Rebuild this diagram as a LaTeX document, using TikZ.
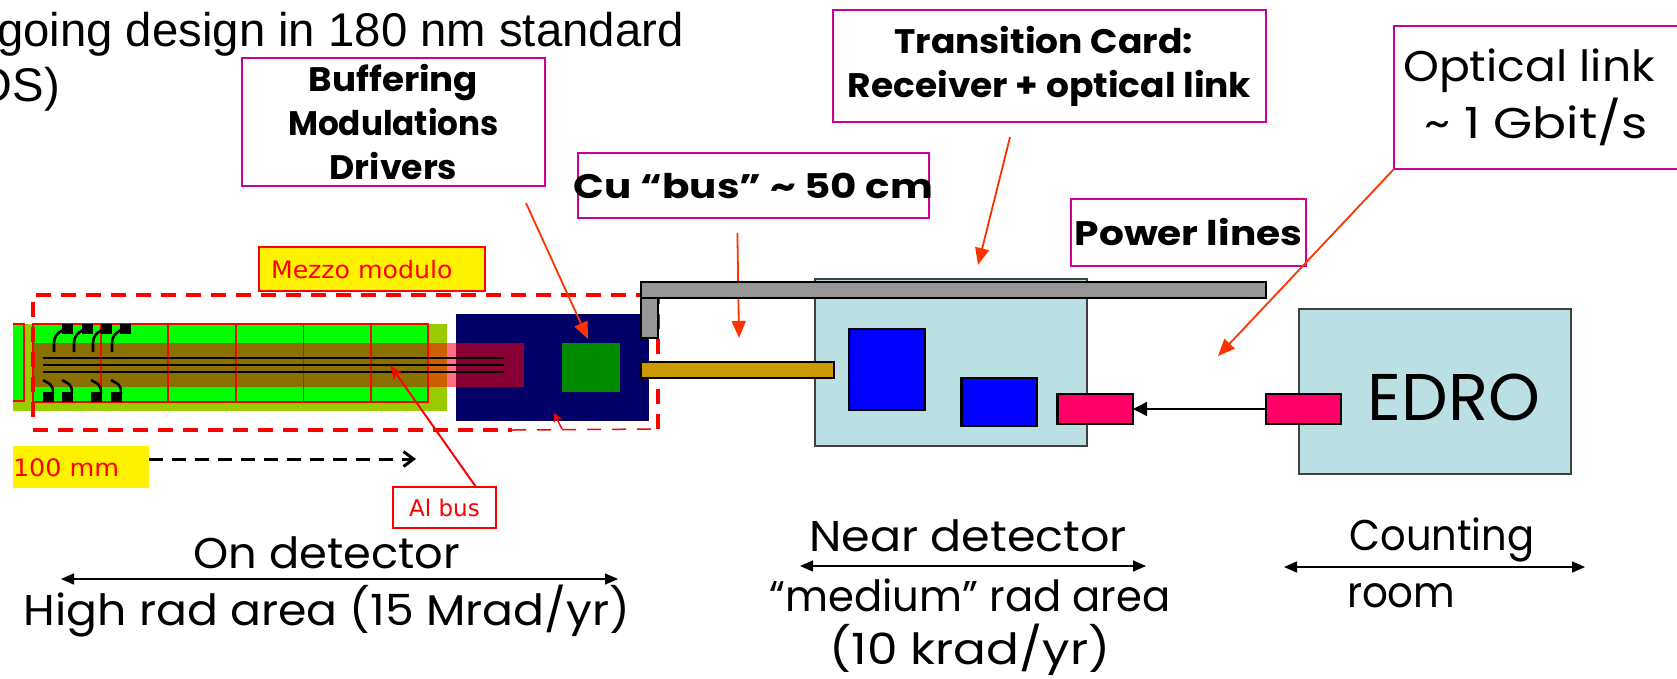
\documentclass[tikz,border=0pt]{standalone}
\usepackage{fontspec}
\setmainfont{Poppins}
\newfontfamily\labelfont{DejaVu Sans}
\newfontfamily\slidefont{Liberation Sans}
\newfontfamily\handfont{Poppins}
\newfontfamily\handbold{Poppins}[BoldFont={Poppins Bold}]
\usetikzlibrary{arrows.meta,calc}
\definecolor{olivegreen}{HTML}{99CC00}
\definecolor{brightgreen}{HTML}{00FF00}
\definecolor{bandbrown}{HTML}{8A7000}
\definecolor{bandorange}{HTML}{CC5F00}
\definecolor{bandpink}{HTML}{FF7080}
\definecolor{banddark}{HTML}{880033}
\definecolor{navyboard}{HTML}{000066}
\definecolor{chipgreen}{HTML}{008A00}
\definecolor{goldbus}{HTML}{CC9900}
\definecolor{greybar}{HTML}{969696}
\definecolor{paleblue}{HTML}{BAE0E3}
\definecolor{linkpink}{HTML}{FF0066}
\definecolor{boxmagenta}{HTML}{CC0099}
\definecolor{arroworange}{HTML}{FF3300}
\newcommand\rectnode[6][]{%
  \pgfmathsetmacro\rw{abs(#5-#3)}\pgfmathsetmacro\rh{abs(#6-#4)}%
  \pgfmathsetmacro\rcx{(#3+#5)/2}\pgfmathsetmacro\rcy{(#4+#6)/2}%
  \node[rectangle,inner sep=0pt,outer sep=0pt,minimum width=\rw pt,minimum height=\rh pt,#1] (#2) at (\rcx,\rcy) {};}
\newcommand\rectlabel[7][]{%
  \pgfmathsetmacro\rw{abs(#5-#3)}\pgfmathsetmacro\rh{abs(#6-#4)}%
  \pgfmathsetmacro\rcx{(#3+#5)/2}\pgfmathsetmacro\rcy{(#4+#6)/2}%
  \node[rectangle,inner sep=0pt,outer sep=0pt,minimum width=\rw pt,minimum height=\rh pt,#1] (#2) at (\rcx,\rcy) {#7};}
\newcommand\sx[2]{\scalebox{#1}[1]{#2}}
\newcommand\padright[1]{\rule{#1}{0pt}}
\tikzset{
  callout/.style={draw=boxmagenta,line width=1.6pt,fill=white,align=center,font=\handbold\bfseries\fontsize{34}{44}\selectfont},
  blackbox/.style={draw=black,line width=2.2pt},
  thinbox/.style={draw=black!75,line width=1.6pt},
  hand/.style={inner sep=0pt,outer sep=0pt,font=\handfont\fontsize{43}{50}\selectfont},
  redlabel/.style={inner sep=0pt,outer sep=0pt,text=red,font=\labelfont\fontsize{24}{28}\selectfont},
  orangearrow/.style={draw=arroworange,line width=1.8pt,-{Triangle[length=17pt,width=14pt]}},
  spanarrow/.style={draw=black,line width=1.5pt,{Triangle[length=13pt,width=11pt]}-{Triangle[length=13pt,width=11pt]}},
  reddash/.style={draw=red,line width=3.4pt,dash pattern=on 15pt off 10pt},
  tinyline/.style={draw=black,line width=2.6pt},
}
\begin{document}
\begin{tikzpicture}[x=1pt,y=-1pt]
\useasboundingbox (0,0) rectangle (1677,678);
\fill[white] (0,0) rectangle (1677,678);

% clipped slide text
\node[anchor=base west,inner sep=0pt,font=\slidefont\fontsize{47.3}{50}\selectfont] (slideone) at (-3,46) {going design in 180 nm standard};
\node[anchor=base east,inner sep=0pt,font=\slidefont\fontsize{47.3}{50}\selectfont] (slidetwo) at (60,101) {OS)};

% on-detector frame
\coordinate (frameNW) at (33,295);
\coordinate (frameNE) at (641,295);
\coordinate (frameSW) at (33,430);
\coordinate (frameLeftEnd) at (33,417);
\coordinate (frameThin) at (512,430);
\coordinate (frameSE) at (658,429);
\coordinate (frameEast) at (658,298);

\rectnode[fill=olivegreen]{olive}{13}{324}{447}{411}
\rectnode[fill=brightgreen]{stubgreen}{13}{324}{24}{401}
\draw[red,line width=2pt] (stubgreen.north west) -- (stubgreen.north east) -- (stubgreen.south east) -- (stubgreen.south west);
\rectnode[fill=brightgreen]{mainstrip}{33}{324}{428}{402}
\rectnode[fill=navyboard]{board}{456}{314}{649}{421}
\rectnode[fill=bandbrown]{bandbrownpart}{33}{343}{428}{387}
\rectnode[fill=bandorange]{bandorangepart}{428}{343}{447}{387}
\rectnode[fill=bandpink]{bandpinkpart}{447}{343}{456}{387}
\rectnode[fill=banddark]{banddarkpart}{456}{343}{524}{387}
\rectnode[fill=chipgreen]{chip}{562}{343}{620}{392}

\rectnode[draw=red,line width=2pt]{mainframe}{33}{324}{428}{402}
\foreach \gx in {101,168,236,303.5,371} \draw[red,line width=1.1pt] (\gx,324) -- (\gx,402);

% bus lines
\foreach \ly/\nm in {358/a,365/b,372/c}{
  \coordinate (lw\nm) at (43,\ly); \coordinate (le\nm) at (504,\ly);
  \draw[black,line width=2.2pt] (lw\nm) -- (le\nm);}

% wire-bond details
\foreach \px [count=\i] in {62,82,101,120}{
  \fill[black] (\px,324) rectangle ++(11,10);
  \draw[tinyline] (\px+1,330) .. controls (\px-5,333) and (\px-8,337) .. (\px-8,343) -- (\px-8,352);}
\foreach \px [count=\i] in {43,62,91,111}{
  \fill[black] (\px,392) rectangle ++(10.5,9.5);
  \draw[tinyline] (\px,380) -- (\px+7,384) .. controls (\px+9,386) and (\px+10,388) .. (\px+10,393);}

% dashed frame
\draw[reddash] (frameSW) -- (frameThin);
\draw[reddash] (frameLeftEnd) -- (frameNW) -- (frameNE);
\draw[red,line width=1.5pt,dash pattern=on 14pt off 11pt] (frameThin) -- (frameSE);
\draw[reddash] (frameSE) -- (frameEast);

\coordinate (smallfrom) at (562,429);
\coordinate (smallto) at (554,413);
\draw[red,line width=1.5pt,-{Stealth[length=9pt,width=9pt,open]}] (smallfrom) -- (smallto);

% labels on detector
\rectnode[fill=yellow,draw=red,line width=1.4pt]{mezzobox}{259}{247}{485}{291}
\node[redlabel,anchor=base west] (mezzotext) at (271,278) {\sx{1.05}{Mezzo modulo}};
\rectnode[fill=yellow]{scalebox}{13}{446}{149}{488}
\node[redlabel,anchor=base west] (scaletext) at (13,476) {\sx{1.06}{100 mm}};
\coordinate (scaleend) at (416,459);
\draw[black,line width=3pt,dash pattern=on 14pt off 9pt,-{Straight Barb[length=10pt,width=15pt]}] (scalebox.east |- scaleend) -- (scaleend);
\rectlabel[fill=white,draw=red,line width=1.3pt,text=red,font=\labelfont\fontsize{23}{26}\selectfont]{albus}{393}{487}{496}{528}{Al bus}
\coordinate (albusfrom) at (476,487);
\coordinate (albusto) at (390,365);
\draw[red,line width=2pt,-{Stealth[length=15pt,width=11pt,open]}] (albusfrom) -- (albusto);

% near detector
\coordinate (cufrom) at (737.4,233);
\coordinate (cuto) at (739,338);
\draw[orangearrow] (cufrom) -- (cuto);
\rectnode[fill=paleblue,thinbox]{nearbox}{815}{279}{1087}{446}
\rectnode[fill=blue,blackbox]{blueone}{849}{329}{925}{410}
\rectnode[fill=blue,blackbox]{bluetwo}{961.5}{378}{1037}{426}
\rectnode[fill=greybar,blackbox]{powerstub}{641}{298}{658}{338}
\rectnode[fill=greybar,blackbox]{powerbar}{641}{282}{1266}{298}
\rectnode[fill=goldbus,blackbox]{goldbar}{641}{362}{834}{378}
\rectnode[fill=linkpink,blackbox]{nearlink}{1057.5}{394}{1133}{424}

% counting room
\rectnode[fill=paleblue,thinbox]{edrobox}{1299}{309}{1571}{474}
\rectnode[fill=linkpink,blackbox]{edrolink}{1266}{394}{1341}{424}
\draw[black,line width=1.6pt,-{Triangle[length=14pt,width=14pt]}] (edrolink.west) -- (nearlink.east);
\node[inner sep=0pt,font=\handfont\fontsize{66}{70}\selectfont] (edrotext) at (1454,397) {EDRO};

% callouts
\rectlabel[callout]{buffering}{242}{58}{545}{186}{\sx{1.05}{Buffering}\\\sx{.96}{Modulations}\\\sx{1.02}{Drivers}}
\rectlabel[callout]{transition}{833}{10}{1266}{122}{\sx{1.06}{Transition Card:}\padright{12pt}\\\sx{1.06}{Receiver + optical link}}
\rectlabel[callout]{cubox}{578}{153}{929}{218}{\makebox[0pt][c]{\sx{1.19}{Cu “bus” \~{} 50 cm}}}
\rectlabel[callout]{powerbox}{1071}{199}{1306}{266}{\makebox[0pt][c]{\sx{1.15}{Power lines}}}
\rectlabel[draw=boxmagenta,line width=1.6pt,fill=white,align=center,font=\handfont\fontsize{43}{57}\selectfont]{opticalbox}{1394}{26}{1690}{169}{\sx{1.06}{Optical link}\padright{26pt}\\\sx{1.17}{\~{} 1 Gbit/s}\padright{12pt}}

\coordinate (bufferingfrom) at (526,203);
\coordinate (bufferingto) at (588,339);
\draw[orangearrow] (bufferingfrom) -- (bufferingto);
\coordinate (transitionfrom) at (1010,137);
\coordinate (transitionto) at (978,265);
\draw[orangearrow] (transitionfrom) -- (transitionto);
\coordinate (opticalto) at (1218,356);
\draw[orangearrow] (opticalbox.south west) -- (opticalto);

% bottom labels and extents
\node[hand] (ondet) at (327,553) {\sx{1.04}{On detector}};
\coordinate (onL) at (61,579); \coordinate (onR) at (618,579);
\draw[spanarrow] (onL) -- (onR);
\node[hand] (highrad) at (327,611) {\sx{1.064}{High rad area (15 Mrad/yr)}};
\node[hand] (neardet) at (968,536) {\sx{1.07}{Near detector}};
\coordinate (nearL) at (800,566); \coordinate (nearR) at (1146,566);
\draw[spanarrow] (nearL) -- (nearR);
\node[hand] (medrad) at (970,595) {\sx{.97}{“medium” rad area}};
\node[hand] (krad) at (970,650) {\sx{1.13}{(10 krad/yr)}};
\node[hand] (counting) at (1442,540) {\sx{.93}{Counting}};
\coordinate (roomL) at (1284,567); \coordinate (roomR) at (1585,567);
\draw[spanarrow] (roomL) -- (roomR);
\node[hand,anchor=west] (room) at (1347,596) {\sx{.94}{room}};
\end{tikzpicture}
\end{document}
